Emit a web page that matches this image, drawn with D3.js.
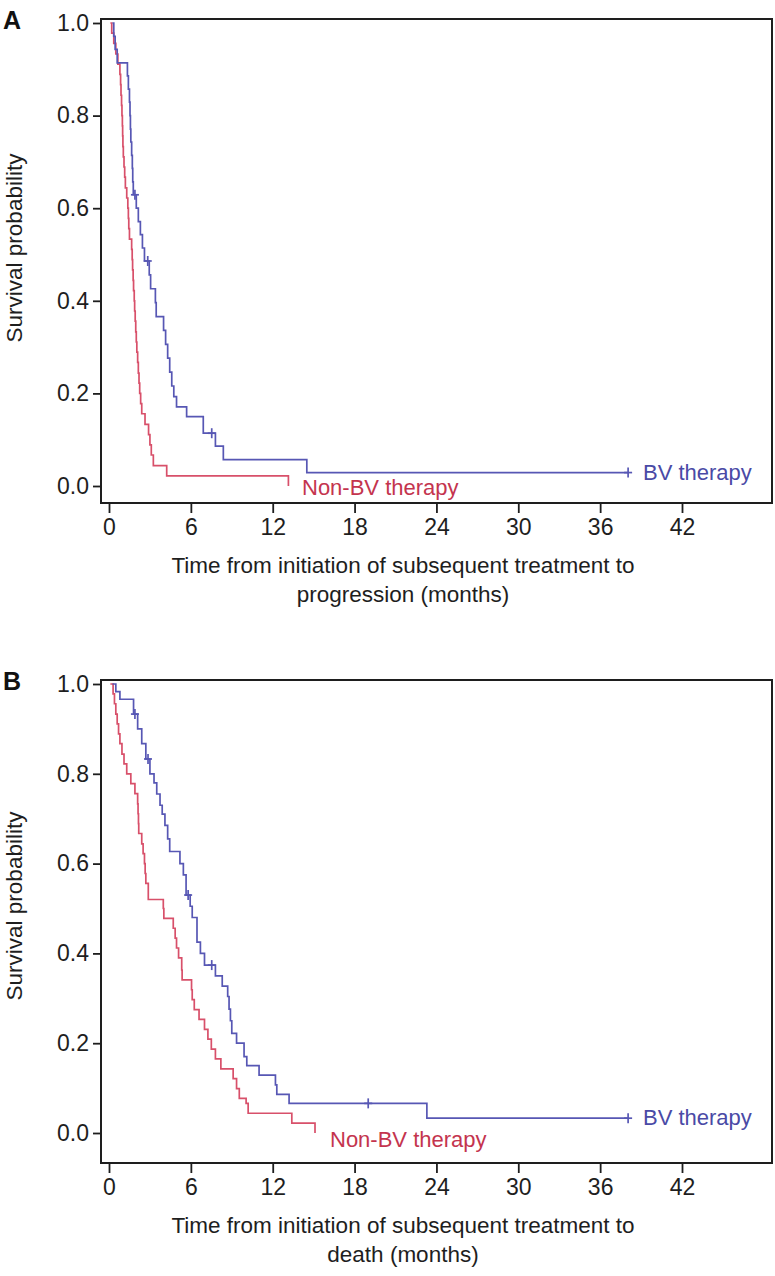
<!DOCTYPE html>
<html>
<head>
<meta charset="utf-8">
<script src="https://cdn.jsdelivr.net/npm/d3@7"></script>
<style>
  html, body { margin: 0; padding: 0; background: #fff; }
  svg { display: block; }
  text { font-family: "Liberation Sans", Arial, Helvetica, sans-serif; }
</style>
</head>
<body>
<svg id="chart" width="775" height="1276"></svg>
<script>
// ---------- data ----------
const xTicks = [0, 6, 12, 18, 24, 30, 36, 42];
const yTicks = [0, 0.2, 0.4, 0.6, 0.8, 1.0];
const yTickLabels = ["0.0", "0.2", "0.4", "0.6", "0.8", "1.0"];

const seriesNames = ["Non-BV therapy", "BV therapy"];
const panelLetters = ["A", "B"];
const xTitlesA = ["Time from initiation of subsequent treatment to", "progression (months)"];
const xTitlesB = ["Time from initiation of subsequent treatment to", "death (months)"];
const yTitle = "Survival probability";

// Panel A – progression
const aNonBvTime = [0.1, 0.2, 0.35, 0.5, 0.65, 0.8, 0.85, 0.88, 0.92, 0.95, 0.98, 1.0, 1.02, 1.05, 1.1, 1.15, 1.2,
  1.3, 1.38, 1.42, 1.45, 1.5, 1.66, 1.7, 1.73, 1.77, 1.8, 1.85, 1.88, 1.92, 1.96, 2.0, 2.04,
  2.1, 2.15, 2.2, 2.25, 2.32, 2.4, 2.64, 2.9, 3.0, 3.1, 3.25, 4.23, 13.15];
const aNonBvSurv = [1.0, 0.978, 0.956, 0.933, 0.911, 0.889, 0.867, 0.844, 0.822, 0.80, 0.778, 0.756, 0.733, 0.711, 0.689, 0.667, 0.644,
  0.622, 0.60, 0.578, 0.556, 0.533, 0.511, 0.489, 0.467, 0.444, 0.422, 0.40, 0.378, 0.356, 0.333, 0.311, 0.289,
  0.267, 0.244, 0.222, 0.20, 0.178, 0.156, 0.133, 0.111, 0.089, 0.067, 0.044, 0.022, 0.0];
const aNonBvCensor = [];

const aBvTime = [0.25, 0.35, 0.45, 0.6, 1.35, 1.42, 1.5, 1.54, 1.57, 1.6, 1.66, 1.71, 1.74, 1.78,
  2.0, 2.15, 2.3, 2.45, 2.6, 2.95, 3.05, 3.4, 3.46, 4.0, 4.15, 4.3, 4.45, 4.6, 4.75, 4.95,
  5.69, 6.91, 7.8, 8.38, 14.5, 38.05];
const aBvSurv = [1.0, 0.971, 0.943, 0.914, 0.886, 0.857, 0.829, 0.80, 0.771, 0.743, 0.714, 0.686, 0.657, 0.629,
  0.60, 0.571, 0.543, 0.514, 0.486, 0.456, 0.426, 0.396, 0.366, 0.336, 0.306, 0.276, 0.246, 0.216, 0.193, 0.171,
  0.150, 0.114, 0.086, 0.057, 0.029, 0.029];
const aBvCensor = [1.9, 2.84, 7.53, 38.05];

// Panel B – death
const bNonBvTime = [0.1, 0.3, 0.4, 0.5, 0.6, 0.7, 0.8, 0.95, 1.1, 1.3, 1.6, 1.9, 2.1, 2.13, 2.16, 2.18,
  2.4, 2.5, 2.6, 2.65, 2.7, 2.88, 3.98, 4.02, 4.71, 4.85, 4.95, 5.1,
  5.33, 5.36, 6.05, 6.1, 6.25, 6.6, 7.0, 7.25, 7.5, 7.8, 8.2, 9.1, 9.35, 9.55, 10.05, 10.2, 13.4, 15.1];
const bNonBvSurv = [1.0, 0.978, 0.956, 0.933, 0.911, 0.889, 0.867, 0.844, 0.822, 0.80, 0.778, 0.756, 0.733, 0.711, 0.689, 0.667,
  0.644, 0.622, 0.60, 0.578, 0.556, 0.52, 0.50, 0.478, 0.456, 0.434, 0.412, 0.39,
  0.363, 0.341, 0.319, 0.297, 0.275, 0.253, 0.231, 0.209, 0.187, 0.165, 0.143, 0.121, 0.099, 0.077, 0.066, 0.044, 0.022, 0.0];
const bNonBvCensor = [];

const bBvTime = [0.25, 0.5, 0.8, 1.8, 2.1, 2.4, 2.7, 3.0, 3.3, 3.5, 3.74, 3.9, 4.1, 4.3, 4.45,
  5.2, 5.45, 5.65, 5.95, 6.1, 6.45, 6.7, 7.0, 7.8, 8.3, 8.7, 8.8, 8.9, 9.0, 9.35, 9.9, 10.1, 11.0, 12.2, 12.3, 13.2, 23.3, 38.05];
const bBvSurv = [1.0, 0.983, 0.966, 0.933, 0.90, 0.867, 0.833, 0.80, 0.78, 0.755, 0.73, 0.71, 0.685, 0.655, 0.627,
  0.60, 0.575, 0.53, 0.505, 0.48, 0.425, 0.40, 0.374, 0.35, 0.327, 0.304, 0.276, 0.25, 0.222, 0.20, 0.17, 0.15, 0.129, 0.107, 0.086, 0.066, 0.033, 0.033];
const bBvCensor = [1.9, 2.86, 5.8, 7.53, 19.0, 38.05];

// ---------- drawing ----------
const svg = d3.select("#chart");
const redLine = "#d8506a", blueLine = "#5757b4";
const redText = "#c4344e", blueText = "#4a4aa6";
const axisCol = "#1e1e1e";
const FONT = '"Liberation Sans", Arial, sans-serif';

const panels = [
  { letter: panelLetters[0], box: [101, 772, 19, 503], yr: [486, 23], titles: xTitlesA,
    red: [aNonBvTime, aNonBvSurv, aNonBvCensor], blue: [aBvTime, aBvSurv, aBvCensor],
    redLab: [302, 495], blueLab: [643, 480], yTitleY: 248 },
  { letter: panelLetters[1], box: [101, 772, 680, 1163], yr: [1133, 684], titles: xTitlesB,
    red: [bNonBvTime, bNonBvSurv, bNonBvCensor], blue: [bBvTime, bBvSurv, bBvCensor],
    redLab: [330, 1147], blueLab: [643, 1125], yTitleY: 906 }
];

panels.forEach(p => {
  const [bl, br, bt, bb] = p.box;
  const x = d3.scaleLinear().domain([0, 42]).range([109, 682]);
  const y = d3.scaleLinear().domain([0, 1]).range(p.yr);
  const g = svg.append("g");

  // box
  g.append("rect").attr("x", bl).attr("y", bt).attr("width", br - bl).attr("height", bb - bt)
    .attr("fill", "none").attr("stroke", axisCol).attr("stroke-width", 2);

  // y axis
  const ya = g.append("g").attr("transform", `translate(${bl},0)`)
    .call(d3.axisLeft(y).tickValues(yTicks).tickFormat((d, i) => yTickLabels[i]).tickSize(8).tickPadding(4));
  ya.select(".domain").remove();
  ya.selectAll("line").attr("stroke", axisCol).attr("stroke-width", 1.8);
  ya.selectAll("text").attr("font-size", 23).attr("fill", axisCol).style("font-family", FONT);

  // x axis
  const xa = g.append("g").attr("transform", `translate(0,${bb})`)
    .call(d3.axisBottom(x).tickValues(xTicks).tickSize(10).tickPadding(6));
  xa.select(".domain").remove();
  xa.selectAll("line").attr("stroke", axisCol).attr("stroke-width", 1.8);
  xa.selectAll("text").attr("font-size", 23).attr("fill", axisCol).style("font-family", FONT);

  // titles
  g.append("text").attr("x", 403).attr("y", bb + 70).attr("text-anchor", "middle")
    .attr("font-size", 22.5).attr("fill", axisCol).text(p.titles[0]);
  g.append("text").attr("x", 403).attr("y", bb + 99).attr("text-anchor", "middle")
    .attr("font-size", 22.5).attr("fill", axisCol).text(p.titles[1]);
  g.append("text").attr("transform", `translate(22,${p.yTitleY}) rotate(-90)`)
    .attr("text-anchor", "middle").attr("font-size", 22.5).attr("fill", axisCol).text(yTitle);
  g.append("text").attr("x", 3).attr("y", bt + 10).attr("font-size", 25).attr("font-weight", "bold")
    .attr("fill", "#111").text(p.letter);

  const line = d3.line().x(d => x(d[0])).y(d => y(d[1])).curve(d3.curveStepAfter);
  const drawCurve = (arr, col) => {
    const [ts, ss, cs] = arr;
    const pts = ts.map((t, i) => [t, ss[i]]);
    g.append("path").attr("d", line(pts)).attr("fill", "none").attr("stroke", col).attr("stroke-width", 1.7);
    const stepAt = t => { let s = ss[0]; ts.forEach((tt, i) => { if (tt <= t) s = ss[i]; }); return s; };
    cs.forEach(c => {
      const cx = x(c), cy = y(stepAt(c));
      g.append("line").attr("x1", cx).attr("x2", cx).attr("y1", cy - 5).attr("y2", cy + 5)
        .attr("stroke", col).attr("stroke-width", 1.7);
      g.append("line").attr("x1", cx - 4).attr("x2", cx + 4).attr("y1", cy).attr("y2", cy)
        .attr("stroke", col).attr("stroke-width", 1.7);
    });
  };
  drawCurve(p.red, redLine);
  drawCurve(p.blue, blueLine);

  g.append("text").attr("x", p.redLab[0]).attr("y", p.redLab[1]).attr("font-size", 22)
    .attr("fill", redText).text(seriesNames[0]);
  g.append("text").attr("x", p.blueLab[0]).attr("y", p.blueLab[1]).attr("font-size", 22)
    .attr("fill", blueText).text(seriesNames[1]);
});
</script>
</body>
</html>
